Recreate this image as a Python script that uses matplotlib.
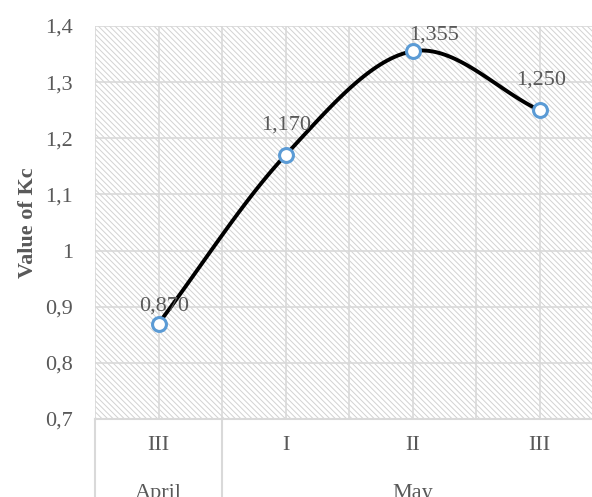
import numpy as np
import matplotlib
matplotlib.use("Agg")
import matplotlib.pyplot as plt
from matplotlib.patches import Rectangle

plt.rcParams['font.family'] = ['Liberation Serif', 'DejaVu Serif']
plt.rcParams['hatch.linewidth'] = 0.7

# 数据
decades = ["III", "I", "II", "III"]
months = ["April", "May"]
month_spans = [1, 3]
kc_values = [0.870, 1.170, 1.355, 1.250]
kc_labels = ["0,870", "1,170", "1,355", "1,250"]

TEXT = "#595959"
GRID = "#d9d9d9"
FS = 16


def catmull_rom(x, y, n=40):
    """平滑曲线（类似 Excel 的平滑线）"""
    px = np.concatenate([[2 * x[0] - x[1]], x, [2 * x[-1] - x[-2]]])
    py = np.concatenate([[2 * y[0] - y[1]], y, [2 * y[-1] - y[-2]]])
    xs, ys = [], []
    t = np.linspace(0, 1, n)
    for i in range(1, len(px) - 2):
        for arr, out in ((px, xs), (py, ys)):
            p0, p1, p2, p3 = arr[i - 1:i + 3]
            seg = 0.5 * ((2 * p1) + (-p0 + p2) * t
                         + (2 * p0 - 5 * p1 + 4 * p2 - p3) * t ** 2
                         + (-p0 + 3 * p1 - 3 * p2 + p3) * t ** 3)
            out.extend(seg)
    return np.array(xs), np.array(ys)


fig = plt.figure(figsize=(5.92, 4.97), dpi=100)
# 绘图区延伸到图片右边缘之外
ax = fig.add_axes([95 / 592, (497 - 419) / 497, 508 / 592, 393 / 497])

x = np.arange(len(kc_values))
ax.set_xlim(-0.5, len(kc_values) - 0.5)
ax.set_ylim(0.7, 1.4)

# 斜线底纹
ax.add_patch(Rectangle((0, 0), 1, 1, transform=ax.transAxes, facecolor="white",
                       edgecolor="#d2d2d2", hatch="\\" * 6, linewidth=0, zorder=0))

# 网格
yticks = np.arange(0.7, 1.401, 0.1)
for yv in yticks:
    ax.axhline(yv, color=GRID, lw=1.2, zorder=1)
for xv in np.arange(-0.5, len(kc_values), 0.5):
    ax.axvline(xv, color=GRID, lw=1.2, zorder=1)

xs, ys = catmull_rom(x.astype(float), np.array(kc_values))
ax.plot(xs, ys, color="black", lw=2.8, zorder=3, solid_capstyle="round")
ax.plot(x, kc_values, ls="none", marker="o", ms=10, mfc="white", mec="#5b9bd5",
        mew=2.2, zorder=4)

label_offsets = [(6, 18), (1, 30), (22, 16), (2, 30)]
for xi, yi, lab, off in zip(x, kc_values, kc_labels, label_offsets):
    ax.annotate(lab, (xi, yi), xytext=off, textcoords="offset pixels",
                ha="center", va="center", fontsize=FS, color=TEXT, zorder=5)

for s in ax.spines.values():
    s.set_visible(False)
ax.set_yticks(yticks)
ax.set_yticklabels([f"{v:.1f}".replace(".", ",").replace(",0", "") for v in yticks],
                   fontsize=FS, color=TEXT)
ax.tick_params(axis="y", length=0, pad=16)
ax.set_xticks([])
ax.set_ylabel("Value of Kc", fontsize=FS, fontweight="bold", color=TEXT, labelpad=5)

# 多级分类轴
xax = ax.get_xaxis_transform()
ax.plot([-0.5, len(kc_values) - 0.5], [0, 0], transform=xax,
        color=GRID, lw=1.5, clip_on=False)
for xi, lab in zip(x, decades):
    ax.annotate(lab, (xi, 0), xycoords=xax, xytext=(0, -27), textcoords="offset pixels",
                ha="center", va="center", fontsize=FS, color=TEXT,
                annotation_clip=False)
start = -0.5
for m, span in zip(months, month_spans):
    ax.plot([start, start], [0, -0.3], transform=xax,
            color=GRID, lw=1.5, clip_on=False)
    ax.annotate(m, (start + span / 2, 0), xycoords=xax, xytext=(0, -65),
                textcoords="offset pixels", ha="center", va="top", fontsize=FS,
                color=TEXT, annotation_clip=False)
    start += span

fig.savefig("out.png", dpi=100)
